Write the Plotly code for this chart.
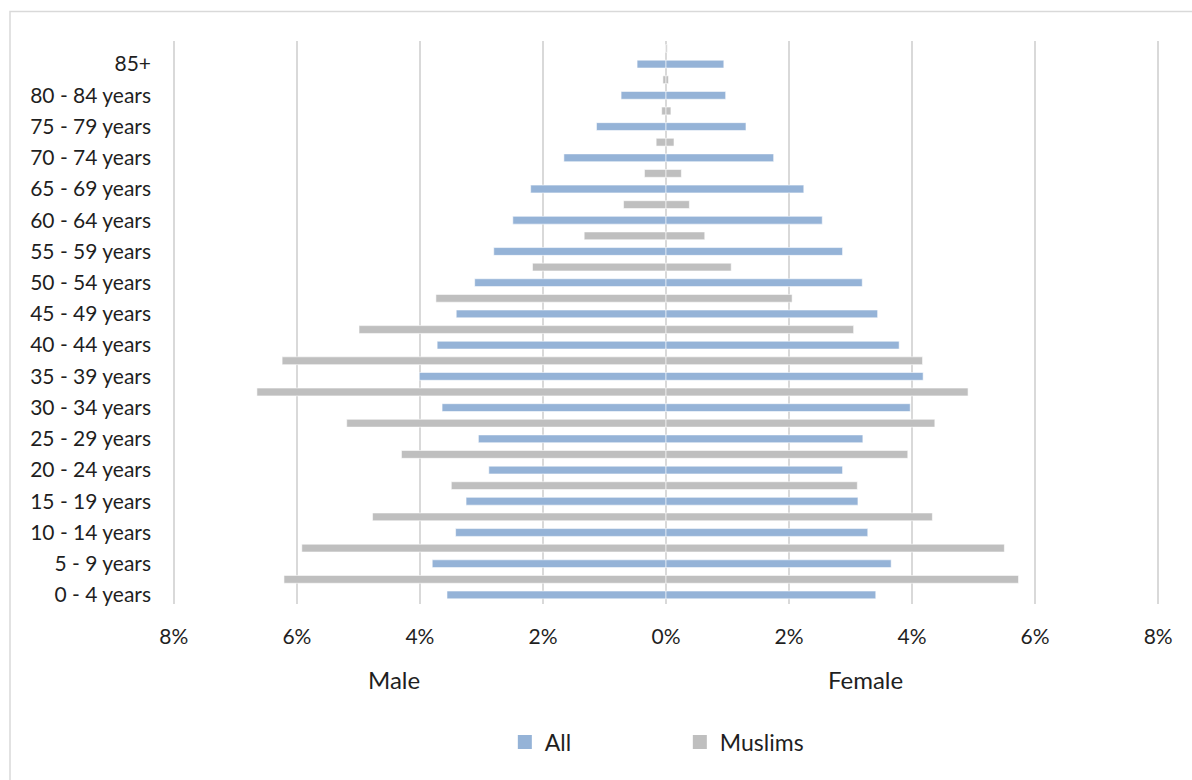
import numpy as np
import plotly.graph_objects as go

# Age groups, youngest first (bottom of the pyramid)
age_groups = ["0 - 4 years", "5 - 9 years", "10 - 14 years", "15 - 19 years",
              "20 - 24 years", "25 - 29 years", "30 - 34 years", "35 - 39 years",
              "40 - 44 years", "45 - 49 years", "50 - 54 years", "55 - 59 years",
              "60 - 64 years", "65 - 69 years", "70 - 74 years", "75 - 79 years",
              "80 - 84 years", "85+"]

# Share of total population (%), whole population
all_male = [3.56, 3.80, 3.42, 3.25, 2.88, 3.05, 3.64, 4.01, 3.72, 3.41,
            3.11, 2.80, 2.49, 2.20, 1.66, 1.13, 0.73, 0.47]
all_female = [3.41, 3.66, 3.28, 3.12, 2.87, 3.20, 3.97, 4.18, 3.79, 3.44,
              3.19, 2.87, 2.54, 2.24, 1.75, 1.30, 0.97, 0.94]

# Share of total population (%), Muslims
muslim_male = [6.21, 5.92, 4.77, 3.49, 4.30, 5.19, 6.65, 6.24, 4.99, 3.74,
               2.17, 1.33, 0.69, 0.35, 0.16, 0.07, 0.05, 0.01]
muslim_female = [5.73, 5.50, 4.33, 3.11, 3.93, 4.37, 4.91, 4.17, 3.05, 2.05,
                 1.06, 0.63, 0.38, 0.25, 0.13, 0.08, 0.04, 0.02]

tick_values = [-8, -6, -4, -2, 0, 2, 4, 6, 8]
tick_labels = ["8%", "6%", "4%", "2%", "0%", "2%", "4%", "6%", "8%"]

BLUE = "#95B3D7"
GRAY = "#BFBFBF"
FONT = "Lato"
TEXT = "#1f1f1f"

# plot area geometry (pixels)
ML, MR, MT, MB = 172, 32, 41, 176
PW = 1192 - ML - MR
PH = 780 - MT - MB


def px(xp):
    return (xp - ML) / PW


def py(yp):
    return (780 - MB - yp) / PH


pos = np.arange(len(age_groups), dtype=float)

fig = go.Figure()

# Male values go to the left (negative), female to the right
series = [("All", all_male, all_female, pos, BLUE),
          ("Muslims", muslim_male, muslim_female, pos + 0.5, GRAY)]
for name, male, female, ypos, color in series:
    fig.add_trace(go.Bar(
        name=name,
        orientation="h",
        y=np.concatenate([ypos, ypos]),
        x=np.concatenate([-np.array(male), np.array(female)]),
        width=0.25,
        marker=dict(color=color, line=dict(color="rgba(255,255,255,0.7)", width=0.8)),
        hoverinfo="skip",
        showlegend=False,
        legendgroup=name,
    ))

# legend keys as square swatches
for name, _, _, _, color in series:
    fig.add_trace(go.Scatter(
        name=name,
        x=[None], y=[None],
        mode="markers",
        marker=dict(symbol="square", size=14, color=color),
        legendgroup=name,
        showlegend=True,
    ))

fig.update_layout(
    width=1192,
    height=780,
    margin=dict(l=ML, r=MR, t=MT, b=MB),
    paper_bgcolor="white",
    plot_bgcolor="white",
    barmode="overlay",
    font=dict(family=FONT, size=21, color=TEXT),
    showlegend=True,
    legend=dict(
        orientation="h",
        x=0.514, xanchor="center",
        y=py(742), yanchor="middle",
        font=dict(family=FONT, size=23, color=TEXT),
        entrywidth=130,
        entrywidthmode="pixels",
        itemwidth=30,
    ),
    xaxis=dict(
        range=[-8.03, 8.03],
        tickvals=tick_values,
        ticktext=tick_labels,
        showgrid=True,
        gridcolor="#D9D9D9",
        gridwidth=1.5,
        zeroline=False,
        showline=False,
        ticks="",
        ticklabelstandoff=18,
        fixedrange=True,
    ),
    yaxis=dict(
        range=[-0.29, 17.74],
        tickvals=pos,
        ticktext=age_groups,
        showgrid=False,
        zeroline=False,
        showline=False,
        ticks="",
        ticklabelstandoff=20,
        fixedrange=True,
    ),
    annotations=[
        dict(text="Male", x=px(394), y=py(679), xref="paper", yref="paper",
             xanchor="center", yanchor="middle", showarrow=False,
             font=dict(family=FONT, size=24, color=TEXT)),
        dict(text="Female", x=px(865), y=py(679), xref="paper", yref="paper",
             xanchor="center", yanchor="middle", showarrow=False,
             font=dict(family=FONT, size=24, color=TEXT)),
    ],
    shapes=[
        # chart frame
        dict(type="rect", xref="paper", yref="paper",
             x0=px(10), x1=px(1210), y0=py(800), y1=py(11.5),
             line=dict(color="#D9D9D9", width=1.5), fillcolor="rgba(0,0,0,0)",
             layer="below"),
    ],
)

fig.write_html("out.html")
